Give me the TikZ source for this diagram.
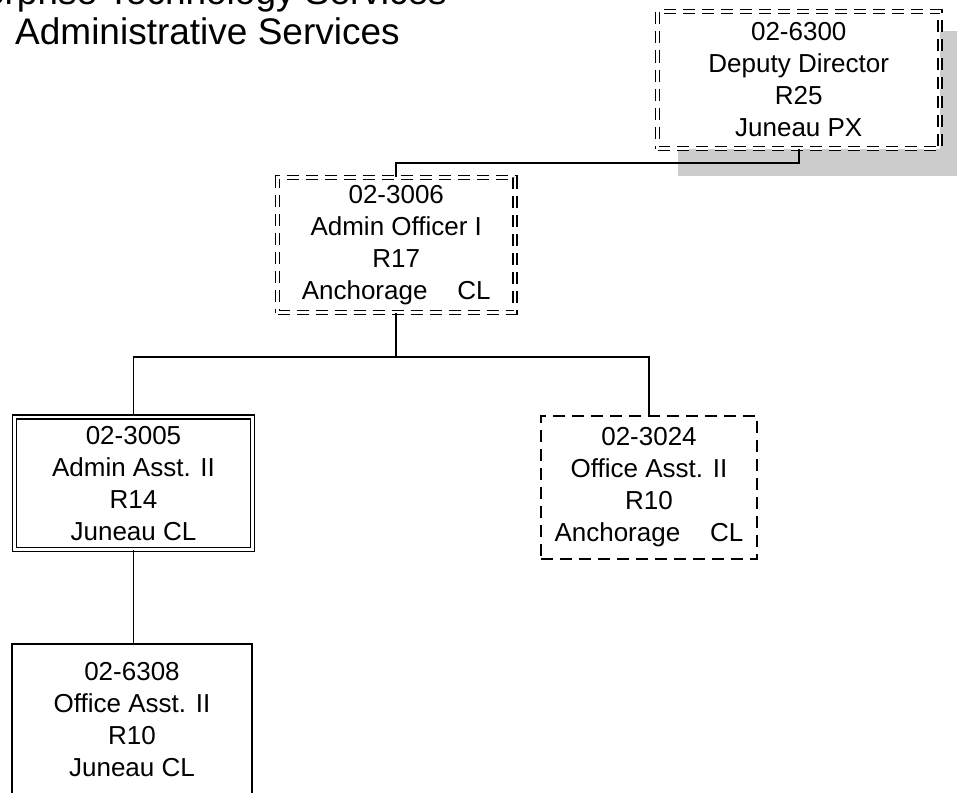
\documentclass[tikz,border=0pt]{standalone}
\usepackage{fontspec}
\setmainfont{Liberation Sans}
\begin{document}
\begin{tikzpicture}[x=1pt,y=-1pt,
  box/.style={draw=black, line width=1.6pt, fill=white, inner sep=0pt, align=center,
    font=\fontsize{26}{32}\selectfont},
  dbl/.style={double=white, double distance=2.5pt},
  dsh/.style={dash pattern=on 12pt off 7pt},
  conn/.style={line width=1.6pt},
  title/.style={inner sep=0pt, font=\fontsize{37}{40}\selectfont}]
\useasboundingbox (0,0) rectangle (957,792);
\clip (0,0) rectangle (957,792);

% title
\node[title, anchor=base east] (t1) at (447,5) {Enterprise Technology Services};
\node[title, anchor=base west] (t2) at (15,45) {Administrative Services};

% shadow of the top box
\fill[gray!40] (678,31) rectangle (967,176);

% boxes
\node[box, dbl, dsh, minimum width=282.5pt, minimum height=137pt] (dep) at (798.75,80)
  {02-6300\\Deputy Director\\R25\\Juneau PX};
\node[box, dbl, dsh, minimum width=237.5pt, minimum height=135pt] (ao) at (396.25,245)
  {02-3006\\Admin Officer I\\R17\\Anchorage\hspace{30pt}CL};
\node[box, dbl, minimum width=238pt, minimum height=132.5pt] (aa) at (133.5,483.25)
  {02-3005\\Admin Asst. II\\R14\\Juneau CL};
\node[box, dsh, minimum width=216pt, minimum height=143pt] (oa) at (649,487.5)
  {02-3024\\Office Asst. II\\R10\\Anchorage\hspace{30pt}CL};
\node[box, minimum width=240pt, minimum height=152pt] (op) at (132,720)
  {02-6308\\Office Asst. II\\R10\\Juneau CL};

% connectors
\coordinate (b1) at (0,163);
\coordinate (b2) at (0,357);
\draw[conn] (dep.south) -- (dep.south |- b1) -| (ao.north);
\draw[conn] (ao.south) -- (ao.south |- b2);
\draw[conn] (aa.north) |- (ao.south |- b2) -| (oa.north);
\draw[conn] (aa.south) -- (aa.south |- op.north);
\end{tikzpicture}
\end{document}
